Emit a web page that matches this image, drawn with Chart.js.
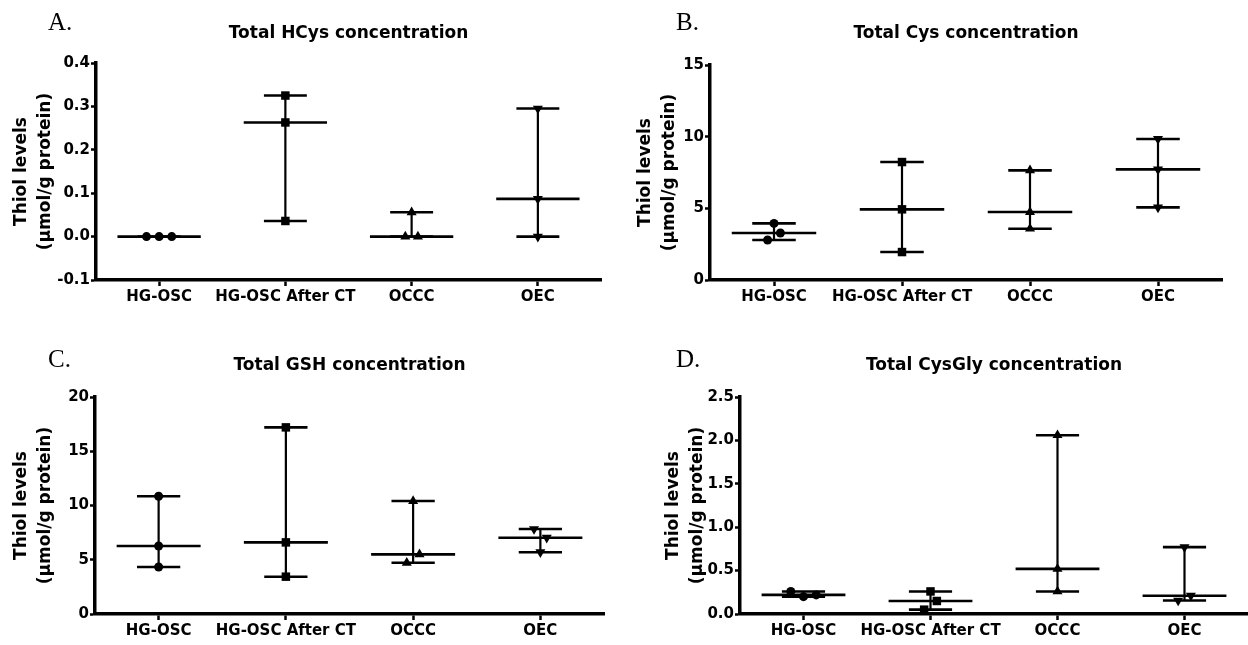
<!DOCTYPE html>
<html>
<head>
<meta charset="utf-8">
<script src="https://cdn.jsdelivr.net/npm/chart.js@4.4.1/dist/chart.umd.min.js"></script>
<style>
  body { margin: 0; background: #fff; }
  #page { position: relative; width: 1248px; height: 645px; overflow: hidden; }
  .panel { position: absolute; }
  .letter { position: absolute; font-family: "Liberation Serif", serif; font-size: 25px; line-height: 1; color: #000; }
</style>
</head>
<body>
<div id="page"></div>
<script>
// groups on the x axis, and the marker used for each
const GROUPS = ["HG-OSC", "HG-OSC After CT", "OCCC", "OEC"];
const MARKERS = ["circle", "rect", "triangle", "triangle"];
const MARKER_ROTATION = [0, 0, 0, 180];
const MARKER_RADIUS = [4.5, 6, 5.8, 5.8];

// replicate values per group (umol/g protein)
const HCYS = [[0, 0, 0], [0.325, 0.263, 0.036], [0.056, 0, 0], [0.295, 0.087, 0]];
const CYS = [[3.95, 2.79, 3.28], [8.23, 4.93, 1.95], [7.65, 4.74, 3.58], [9.84, 7.72, 5.07]];
const GSH = [[10.85, 6.27, 4.33], [17.2, 6.6, 3.44], [10.41, 4.72, 5.5], [7.83, 7.03, 5.69]];
const CYSGLY = [[0.26, 0.2, 0.22], [0.26, 0.05, 0.15], [2.06, 0.52, 0.26], [0.77, 0.155, 0.21]];

const HCYS_TICKS = [-0.1, 0, 0.1, 0.2, 0.3, 0.4];
const CYS_TICKS = [0, 5, 10, 15];
const GSH_TICKS = [0, 5, 10, 15, 20];
const CYSGLY_TICKS = [0, 0.5, 1, 1.5, 2, 2.5];

const Y_TITLE = ["Thiol levels", "(\u03bcmol/g protein)"];

const PANELS = [
  { letter: "A.", title: "Total HCys concentration", values: HCYS, ticks: HCYS_TICKS, digits: 1,
    box: [0, 0, 624, 320], area: { left: 96, right: 601, top: 63, bottom: 280 }, titleTop: 23, yTitlePad: 10, letterAt: [48, 9] },
  { letter: "B.", title: "Total Cys concentration", values: CYS, ticks: CYS_TICKS, digits: 0,
    box: [624, 0, 624, 320], area: { left: 86, right: 598, top: 65, bottom: 280 }, titleTop: 23, yTitlePad: 10, letterAt: [52, 9] },
  { letter: "C.", title: "Total GSH concentration", values: GSH, ticks: GSH_TICKS, digits: 0,
    box: [0, 320, 624, 325], area: { left: 95, right: 604, top: 77, bottom: 294 }, titleTop: 35, yTitlePad: 10, letterAt: [48, 26] },
  { letter: "D.", title: "Total CysGly concentration", values: CYSGLY, ticks: CYSGLY_TICKS, digits: 1,
    box: [624, 320, 624, 325], area: { left: 116, right: 624, top: 77, bottom: 294 }, titleTop: 35, yTitlePad: 38, letterAt: [52, 26] }
];

function median(list) {
  const s = [...list].sort((a, b) => a - b);
  const m = Math.floor(s.length / 2);
  return s.length % 2 ? s[m] : (s[m - 1] + s[m]) / 2;
}

// spread points that would overlap into a centred row, like a column scatter
function jitter(values, range) {
  const limit = range * 9 / 217;
  const order = values.map((v, i) => i).sort((a, b) => values[b] - values[a]);
  const offsets = values.map(() => 0);
  let row = [];
  const flush = () => {
    row.sort((a, b) => a - b);
    row.forEach((idx, k) => offsets[idx] = (k - (row.length - 1) / 2) * 0.1);
    row = [];
  };
  order.forEach(idx => {
    if (row.length && values[row[0]] - values[idx] > limit) flush();
    row.push(idx);
  });
  flush();
  return offsets;
}

function segments(list) {
  var out = [];
  list.forEach(s => out.push({ x: s[0], y: s[1] }, { x: s[2], y: s[3] }, { x: s[2], y: null }));
  return out;
}

function lineSet(data, width) {
  return { data: data, showLine: true, spanGaps: false, borderColor: "#000",
    borderWidth: width, pointRadius: 0, tension: 0, order: 1, borderCapStyle: "butt" };
}

function buildPanel(panel) {
  var [bx, by, bw, bh] = panel.box;
  var page = document.getElementById("page");

  var div = document.createElement("div");
  div.classList.add("panel");
  div.style.left = bx + "px";
  div.style.top = by + "px";
  div.style.width = bw + "px";
  div.style.height = bh + "px";

  var canvas = document.createElement("canvas");
  canvas.width = bw;
  canvas.height = bh;
  div.append(canvas);

  var letter = document.createElement("div");
  letter.classList.add("letter");
  letter.style.left = panel.letterAt[0] + "px";
  letter.style.top = panel.letterAt[1] + "px";
  letter.innerText = panel.letter;
  div.append(letter);
  page.append(div);

  var ticks = panel.ticks;
  var range = ticks[ticks.length - 1] - ticks[0];
  var points = [], styles = [], rotations = [], radii = [];
  var medians = [], caps = [], whiskers = [];

  panel.values.forEach((list, g) => {
    var offsets = jitter(list, range);
    list.forEach((v, i) => {
      points.push({ x: g + offsets[i], y: v });
      styles.push(MARKERS[g]);
      rotations.push(MARKER_ROTATION[g]);
      radii.push(MARKER_RADIUS[g]);
    });
    var lo = Math.min(...list), hi = Math.max(...list), med = median(list);
    medians.push([g - 0.33, med, g + 0.33, med]);
    caps.push([g - 0.17, lo, g + 0.17, lo], [g - 0.17, hi, g + 0.17, hi]);
    whiskers.push([g, lo, g, hi]);
  });

  var area = panel.area;
  var tickFont = { family: "DejaVu Sans", size: 15, weight: "bold" };

  new Chart(canvas, {
    type: "line",
    data: {
      datasets: [
        { data: points, showLine: false, pointStyle: styles, rotation: rotations, pointRadius: radii,
          pointBackgroundColor: "#000", pointBorderColor: "#000", pointBorderWidth: 0, order: 0 },
        lineSet(segments(medians), 2.6),
        lineSet(segments(caps), 2.6),
        lineSet(segments(whiskers), 2.2)
      ]
    },
    options: {
      responsive: false,
      animation: false,
      events: [],
      layout: { autoPadding: false, padding: { left: 0, right: bw - area.right, top: 0, bottom: 0 } },
      plugins: {
        legend: { display: false },
        tooltip: { enabled: false },
        title: {
          display: true, text: panel.title, color: "#000", fullSize: false,
          font: { family: "DejaVu Sans", size: 17, weight: "bold", lineHeight: 1.2 },
          padding: { top: panel.titleTop, bottom: area.top - panel.titleTop - 20.4 }
        }
      },
      scales: {
        x: {
          type: "linear", min: -0.5, max: 3.5,
          afterBuildTicks: s => { s.ticks = GROUPS.map((n, i) => ({ value: i })); },
          afterFit: s => { s.height = bh - area.bottom; },
          ticks: { callback: v => GROUPS[v], color: "#000", autoSkip: false, maxRotation: 0, padding: 2, font: tickFont },
          grid: { drawOnChartArea: false, drawTicks: true, tickLength: 6, tickWidth: 2.5, tickColor: "#000" },
          border: { display: true, color: "#000", width: 3.5 }
        },
        y: {
          type: "linear", min: ticks[0], max: ticks[ticks.length - 1],
          afterBuildTicks: s => { s.ticks = ticks.map(v => ({ value: v })); },
          afterFit: s => { s.width = area.left; },
          ticks: { callback: v => v.toFixed(panel.digits), color: "#000", autoSkip: false, padding: 1, font: tickFont },
          grid: { drawOnChartArea: false, drawTicks: true, tickLength: 5, tickWidth: 2.5, tickColor: "#000" },
          border: { display: true, color: "#000", width: 3.5 },
          title: { display: true, text: Y_TITLE, color: "#000", padding: { top: panel.yTitlePad, bottom: 0 },
            font: { family: "DejaVu Sans", size: 17, weight: "bold", lineHeight: "24px" } }
        }
      }
    }
  });
}

function initialLoad() {
  PANELS.forEach(panel => buildPanel(panel));
}

initialLoad();
</script>
</body>
</html>
